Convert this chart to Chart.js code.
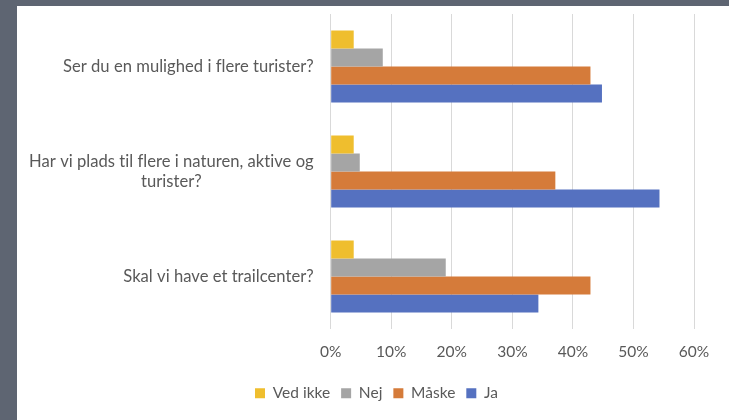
<!DOCTYPE html>
<html>
<head>
<meta charset="utf-8">
<script src="https://cdn.jsdelivr.net/npm/chart.js@4.4.1/dist/chart.umd.min.js"></script>
<style>
  html, body { margin: 0; padding: 0; background: #5e6572; width: 729px; height: 420px; overflow: hidden; }
  #panel { position: absolute; left: 17px; top: 6px; width: 712px; height: 414px; background: #ffffff; }
  #c { display: block; }
</style>
</head>
<body>
<div id="panel"><canvas id="c" width="712" height="414"></canvas></div>
<script>
const categories = [
  ["Ser du en mulighed i flere turister?"],
  ["Har vi plads til flere i naturen, aktive og", "turister?"],
  ["Skal vi have et trailcenter?"]
];
const seriesNames = ["Ved ikke", "Nej", "Måske", "Ja"];
const vedIkke = [3.8, 3.8, 3.8];
const nej = [8.6, 4.8, 19.0];
const maaske = [42.9, 37.1, 42.9];
const ja = [44.8, 54.3, 34.3];
const xTicks = [0, 10, 20, 30, 40, 50, 60];

const colors = ["#efbe2e", "#a5a5a5", "#d57b3a", "#5571c0"];
const textColor = "#595959";
const fontFamily = "Lato, 'Open Sans', sans-serif";

const yLabelPlugin = {
  id: 'yLabels',
  afterDraw(chart) {
    const ctx = chart.ctx;
    const y = chart.scales.y;
    const rightX = chart.chartArea.left - 17;
    ctx.save();
    ctx.font = "16.6px " + fontFamily;
    try { ctx.letterSpacing = '0.02px'; } catch (e) {}
    ctx.fillStyle = textColor;
    ctx.textBaseline = 'middle';
    const lh = 20;
    categories.forEach((lines, i) => {
      const cy = y.getPixelForTick(i);
      const widths = lines.map(l => ctx.measureText(l).width);
      const maxW = Math.max(...widths);
      const cx = rightX - maxW / 2;
      ctx.textAlign = lines.length > 1 ? 'center' : 'right';
      lines.forEach((l, k) => {
        const ly = cy + (k - (lines.length - 1) / 2) * lh;
        ctx.fillText(l, lines.length > 1 ? cx : rightX, ly);
      });
    });
    ctx.restore();
  }
};

const data = {
  labels: categories.map(c => c.join(' ')),
  datasets: [
    { label: seriesNames[0], data: vedIkke, backgroundColor: colors[0] },
    { label: seriesNames[1], data: nej, backgroundColor: colors[1] },
    { label: seriesNames[2], data: maaske, backgroundColor: colors[2] },
    { label: seriesNames[3], data: ja, backgroundColor: colors[3] }
  ]
};

new Chart(document.getElementById('c'), {
  type: 'bar',
  data: data,
  plugins: [yLabelPlugin],
  options: {
    indexAxis: 'y',
    responsive: false,
    animation: false,
    devicePixelRatio: 1,
    layout: { padding: { top: 8, right: 35, bottom: 9, left: 42 } },
    datasets: { bar: { categoryPercentage: 0.684, barPercentage: 1.0, borderWidth: 0 } },
    scales: {
      x: {
        min: 0, max: 60,
        afterBuildTicks(scale) { scale.ticks = xTicks.map(v => ({ value: v })); },
        ticks: {
          callback: v => v + '%',
          color: textColor,
          font: { family: fontFamily, size: 15.5 },
          padding: 14,
          maxRotation: 0
        },
        grid: { color: '#d9d9d9', lineWidth: 1, drawTicks: false },
        border: { display: false },
        afterFit(scale) { scale.height = 45.5; }
      },
      y: {
        ticks: { display: false },
        grid: { display: false, drawTicks: false },
        border: { display: false },
        afterFit(scale) { scale.width = 271.7; }
      }
    },
    plugins: {
      legend: {
        position: 'bottom',
        labels: {
          color: textColor,
          font: { family: fontFamily, size: 15.5 },
          boxWidth: 10,
          boxHeight: 10,
          padding: 11
        }
      },
      tooltip: { enabled: false }
    }
  }
});
</script>
</body>
</html>
